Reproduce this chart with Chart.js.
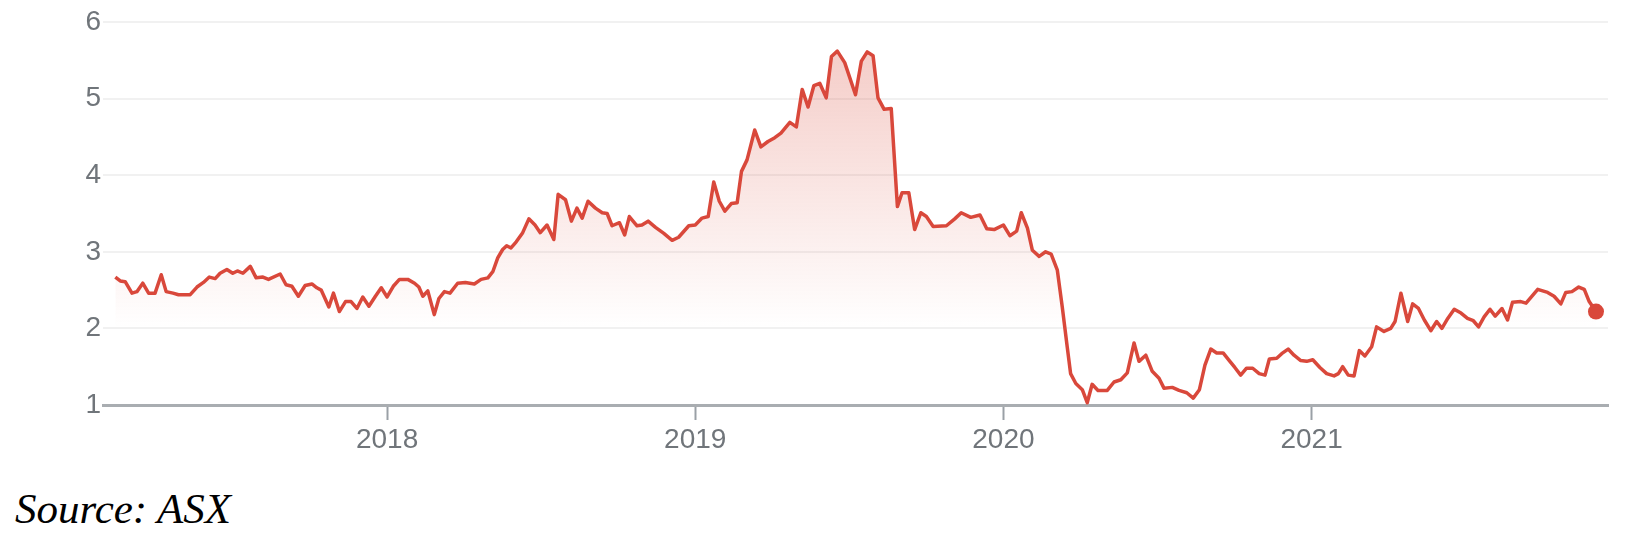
<!DOCTYPE html>
<html>
<head>
<meta charset="utf-8">
<script src="https://cdn.jsdelivr.net/npm/chart.js@4/dist/chart.umd.min.js"></script>
<style>
  body { margin: 0; background: #fff; width: 1634px; height: 542px; position: relative; overflow: hidden; }
  #wrap { position: absolute; left: 0; top: 0; width: 1634px; height: 460px; }
  #source { position: absolute; left: 15px; top: 488px; font: italic 43px/42px "Liberation Serif", "DejaVu Serif", serif; color: #000; }
</style>
</head>
<body>
<div id="wrap"><canvas id="priceChart" width="1634" height="460"></canvas></div>
<div id="source">Source: ASX</div>
<script>
// share price, roughly weekly, x as decimal year
var dates = [
  2017.118, 2017.134, 2017.150, 2017.172, 2017.188, 2017.207, 2017.226, 2017.247, 2017.267, 2017.283,
  2017.305, 2017.323, 2017.361, 2017.383, 2017.404, 2017.423, 2017.442, 2017.458, 2017.480, 2017.499,
  2017.514, 2017.532, 2017.556, 2017.575, 2017.597, 2017.615, 2017.653, 2017.672, 2017.691, 2017.712,
  2017.734, 2017.756, 2017.772, 2017.786, 2017.811, 2017.826, 2017.845, 2017.865, 2017.883, 2017.902,
  2017.921, 2017.941, 2017.962, 2017.981, 2018.000, 2018.020, 2018.040, 2018.067, 2018.089, 2018.103,
  2018.116, 2018.132, 2018.153, 2018.168, 2018.186, 2018.204, 2018.229, 2018.254, 2018.283, 2018.305,
  2018.327, 2018.343, 2018.359, 2018.375, 2018.388, 2018.402, 2018.419, 2018.440, 2018.460, 2018.480,
  2018.497, 2018.519, 2018.541, 2018.555, 2018.579, 2018.598, 2018.616, 2018.633, 2018.652, 2018.676,
  2018.698, 2018.714, 2018.730, 2018.754, 2018.771, 2018.786, 2018.811, 2018.827, 2018.847, 2018.871,
  2018.898, 2018.925, 2018.946, 2018.979, 2019.000, 2019.022, 2019.042, 2019.060, 2019.078, 2019.096,
  2019.117, 2019.136, 2019.150, 2019.168, 2019.193, 2019.213, 2019.236, 2019.258, 2019.278, 2019.307,
  2019.328, 2019.347, 2019.366, 2019.385, 2019.404, 2019.425, 2019.442, 2019.461, 2019.485, 2019.520,
  2019.539, 2019.558, 2019.577, 2019.593, 2019.613, 2019.636, 2019.656, 2019.671, 2019.693, 2019.712,
  2019.732, 2019.750, 2019.772, 2019.815, 2019.842, 2019.863, 2019.894, 2019.924, 2019.946, 2019.970,
  2020.000, 2020.021, 2020.043, 2020.058, 2020.078, 2020.094, 2020.116, 2020.137, 2020.155, 2020.175,
  2020.191, 2020.207, 2020.218, 2020.235, 2020.256, 2020.272, 2020.288, 2020.307, 2020.337, 2020.359,
  2020.381, 2020.402, 2020.424, 2020.440, 2020.462, 2020.483, 2020.505, 2020.521, 2020.548, 2020.570,
  2020.595, 2020.616, 2020.636, 2020.654, 2020.673, 2020.692, 2020.713, 2020.735, 2020.751, 2020.770,
  2020.789, 2020.809, 2020.830, 2020.849, 2020.863, 2020.887, 2020.903, 2020.924, 2020.943, 2020.965,
  2020.984, 2021.004, 2021.027, 2021.049, 2021.073, 2021.087, 2021.101, 2021.119, 2021.138, 2021.155,
  2021.173, 2021.195, 2021.211, 2021.235, 2021.257, 2021.271, 2021.290, 2021.312, 2021.328, 2021.347,
  2021.366, 2021.387, 2021.406, 2021.423, 2021.442, 2021.463, 2021.485, 2021.506, 2021.525, 2021.542,
  2021.560, 2021.579, 2021.596, 2021.618, 2021.636, 2021.652, 2021.679, 2021.696, 2021.734, 2021.766,
  2021.787, 2021.809, 2021.825, 2021.845, 2021.867, 2021.885, 2021.901, 2021.923
];
var prices = [
  2.67, 2.62, 2.61, 2.46, 2.48, 2.59, 2.46, 2.46, 2.70, 2.48,
  2.46, 2.44, 2.44, 2.54, 2.60, 2.67, 2.65, 2.72, 2.77, 2.72,
  2.75, 2.72, 2.81, 2.66, 2.67, 2.64, 2.71, 2.57, 2.55, 2.42,
  2.56, 2.58, 2.53, 2.50, 2.28, 2.46, 2.22, 2.35, 2.35, 2.26,
  2.41, 2.29, 2.42, 2.53, 2.41, 2.55, 2.64, 2.64, 2.59, 2.54,
  2.42, 2.49, 2.18, 2.39, 2.48, 2.46, 2.59, 2.60, 2.58, 2.64,
  2.66, 2.74, 2.92, 3.03, 3.08, 3.05, 3.13, 3.25, 3.43, 3.35,
  3.25, 3.35, 3.16, 3.75, 3.68, 3.40, 3.57, 3.44, 3.66, 3.57,
  3.51, 3.50, 3.34, 3.38, 3.22, 3.46, 3.34, 3.35, 3.40, 3.32,
  3.24, 3.15, 3.19, 3.34, 3.35, 3.44, 3.46, 3.91, 3.66, 3.53,
  3.63, 3.64, 4.05, 4.20, 4.59, 4.37, 4.44, 4.49, 4.55, 4.69,
  4.63, 5.12, 4.89, 5.17, 5.20, 5.01, 5.55, 5.62, 5.47, 5.05,
  5.49, 5.61, 5.56, 5.01, 4.86, 4.87, 3.59, 3.77, 3.77, 3.29,
  3.51, 3.46, 3.33, 3.34, 3.43, 3.51, 3.45, 3.48, 3.30, 3.29,
  3.35, 3.21, 3.27, 3.51, 3.31, 3.02, 2.94, 3.00, 2.97, 2.76,
  2.28, 1.76, 1.41, 1.28, 1.20, 1.03, 1.27, 1.19, 1.19, 1.30,
  1.33, 1.42, 1.81, 1.57, 1.65, 1.44, 1.35, 1.22, 1.23, 1.19,
  1.16, 1.09, 1.20, 1.52, 1.73, 1.68, 1.68, 1.57, 1.49, 1.39,
  1.48, 1.48, 1.41, 1.39, 1.60, 1.61, 1.67, 1.73, 1.65, 1.58,
  1.57, 1.59, 1.49, 1.41, 1.38, 1.41, 1.50, 1.39, 1.38, 1.71,
  1.64, 1.76, 2.02, 1.96, 2.00, 2.09, 2.46, 2.09, 2.32, 2.26,
  2.11, 1.97, 2.09, 2.00, 2.13, 2.25, 2.20, 2.13, 2.10, 2.02,
  2.15, 2.25, 2.16, 2.26, 2.11, 2.34, 2.35, 2.33, 2.51, 2.47,
  2.42, 2.32, 2.47, 2.48, 2.54, 2.51, 2.35, 2.22
];
var yearTicks = [2018, 2019, 2020, 2021];
var priceTicks = [1, 2, 3, 4, 5, 6];

var red = '#d9483b';
var grey = '#70757a';
var tickFont = { family: "'Liberation Sans', Arial, sans-serif", size: 28 };

var points = dates.map(function (d, i) { return { x: d, y: prices[i] }; });
var last = points.length - 1;

var ctx = document.getElementById('priceChart');
var priceChart = new Chart(ctx, {
  type: 'line',
  data: {
    datasets: [{
      data: points,
      borderColor: red,
      borderWidth: 3.5,
      borderJoinStyle: 'round',
      tension: 0,
      fill: 'start',
      backgroundColor: function (c) {
        var chart = c.chart;
        if (!chart.chartArea) return 'rgba(0,0,0,0)';
        var g = chart.ctx.createLinearGradient(0, chart.chartArea.top, 0, chart.scales.y.getPixelForValue(2));
        g.addColorStop(0, 'rgba(217,72,55,0.30)');
        g.addColorStop(1, 'rgba(217,72,55,0)');
        return g;
      },
      pointRadius: function (c) { return c.dataIndex === last ? 8 : 0; },
      pointBackgroundColor: red,
      pointBorderWidth: 0,
      clip: false
    }]
  },
  options: {
    responsive: false,
    animation: false,
    layout: { padding: { top: 22, right: 26, left: 0, bottom: 0 } },
    plugins: { legend: { display: false }, tooltip: { enabled: false } },
    scales: {
      x: {
        type: 'linear',
        min: 2017.078,
        max: 2021.962,
        afterBuildTicks: function (s) { s.ticks = yearTicks.map(function (v) { return { value: v }; }); },
        afterFit: function (s) { s.height = 55; },
        ticks: {
          callback: function (v) { return String(v); },
          font: tickFont, color: grey, padding: 3, maxRotation: 0, autoSkip: false
        },
        grid: { drawOnChartArea: false, drawTicks: true, tickLength: 15, tickColor: '#9aa0a6', tickWidth: 2 },
        border: { display: true, color: '#a9adb1', width: 3 }
      },
      y: {
        min: 1,
        max: 6,
        afterBuildTicks: function (s) { s.ticks = priceTicks.map(function (v) { return { value: v }; }); },
        afterFit: function (s) { s.width = 103; },
        ticks: { font: tickFont, color: grey, padding: 2 },
        grid: { color: '#f1f1f1', lineWidth: 2, drawTicks: false },
        border: { display: false }
      }
    }
  }
});
</script>
</body>
</html>
